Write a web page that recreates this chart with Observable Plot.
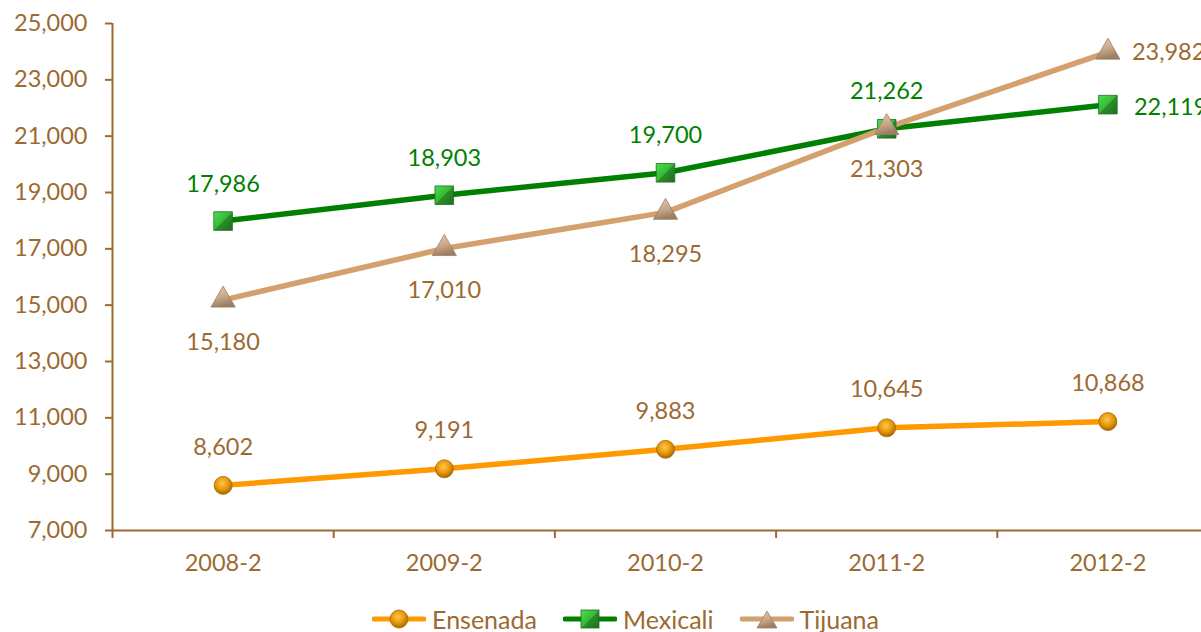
<!DOCTYPE html>
<html><head><meta charset="utf-8">
<script src="https://cdn.jsdelivr.net/npm/d3@7"></script>
<script src="https://cdn.jsdelivr.net/npm/@observablehq/plot@0.6"></script>
<style>
html,body{margin:0;padding:0;background:#fff;overflow:hidden;width:1201px;height:632px}
#chart svg{display:block}
#legend{display:flex;justify-content:center;align-items:center;height:42px;margin-top:8px;padding-left:50px;font-family:Lato,sans-serif;font-size:25px;color:#9C6A30}
#legend .item{display:flex;align-items:center;margin:0 13px}
#legend svg{margin-right:6px}
</style></head><body>
<div id="chart"></div><div id="legend"></div>
<script>
const periods = ["2008-2","2009-2","2010-2","2011-2","2012-2"];
const ensenada = [8602,9191,9883,10645,10868];
const mexicali = [17986,18903,19700,21262,22119];
const tijuana = [15180,17010,18295,21303,23982];
const yTicks = [7000,9000,11000,13000,15000,17000,19000,21000,23000,25000];
const seriesNames = ["Ensenada","Mexicali","Tijuana"];
const seriesColors = {Ensenada:"#FF9900", Mexicali:"#008000", Tijuana:"#D4A06E"};
const labelColors = {Ensenada:"#9C6A30", Mexicali:"#008000", Tijuana:"#9C6A30"};
const axisColor = "#9C6A30";
const fs = 23.5;

const seriesValues = {Ensenada: ensenada, Mexicali: mexicali, Tijuana: tijuana};
const rows = seriesNames.flatMap(s => seriesValues[s].map((v, i) => ({series: s, i, period: periods[i], value: v, last: i === periods.length - 1})));
const bySeries = s => rows.filter(d => d.series === s);
const idx = periods.map((_, i) => i);
const bounds = [-0.5, ...idx.map(i => i + 0.5)];
const fmt = d3.format(",");

const plot = Plot.plot({
  width: 1201, height: 590,
  marginTop: 23, marginBottom: 60, marginLeft: 112, marginRight: 0,
  style: {fontFamily: "Lato, sans-serif", fontSize: fs + "px", color: axisColor, background: "#fff", overflow: "visible"},
  x: {type: "linear", domain: [-0.5, periods.length - 0.5], range: [112, 1218]},
  y: {domain: [7000, 25000], range: [530, 23]},
  marks: [
    Plot.ruleX([-0.5], {stroke: axisColor, strokeWidth: 2}),
    Plot.ruleY([7000], {stroke: axisColor, strokeWidth: 2}),
    Plot.axisY({ticks: yTicks, tickSize: 7, tickPadding: 18, tickFormat: fmt, label: null, stroke: axisColor, strokeWidth: 2, fill: axisColor, fontSize: fs}),
    Plot.axisX({ticks: idx, tickSize: 0, tickPadding: 24, tickFormat: i => periods[i], label: null, fill: axisColor, fontSize: fs}),
    Plot.axisX({ticks: bounds, tickSize: 8, tickFormat: () => "", label: null, stroke: axisColor, strokeWidth: 2}),
    ...seriesNames.map(s => Plot.line(bySeries(s), {x: "i", y: "value", stroke: seriesColors[s], strokeWidth: 5.5})),
    Plot.dot(bySeries("Ensenada"), {x: "i", y: "value", r: 9, fill: "url(#gEns)", stroke: "#A86E00", strokeWidth: 0.8}),
    Plot.dot(bySeries("Mexicali"), {x: "i", y: "value", symbol: "square", r: 10.5, fill: "url(#gMex)", stroke: "#1E6E1E", strokeWidth: 0.8}),
    Plot.dot(bySeries("Tijuana"), {x: "i", y: "value", symbol: "triangle", r: 9, fill: "url(#gTij)", stroke: "#9A8068", strokeWidth: 0.8}),
    Plot.text(bySeries("Ensenada"), {x: "i", y: "value", text: d => fmt(d.value), dy: -38, fill: labelColors.Ensenada, fontSize: fs}),
    Plot.text(bySeries("Mexicali").filter(d => !d.last), {x: "i", y: "value", text: d => fmt(d.value), dy: -37, fill: labelColors.Mexicali, fontSize: fs}),
    Plot.text(bySeries("Mexicali").filter(d => d.last), {x: "i", y: "value", text: d => fmt(d.value), dx: 26, dy: 3, textAnchor: "start", fill: labelColors.Mexicali, fontSize: fs}),
    Plot.text(bySeries("Tijuana").filter(d => !d.last), {x: "i", y: "value", text: d => fmt(d.value), dy: 42, fill: labelColors.Tijuana, fontSize: fs}),
    Plot.text(bySeries("Tijuana").filter(d => d.last), {x: "i", y: "value", text: d => fmt(d.value), dx: 24, dy: 0, textAnchor: "start", fill: labelColors.Tijuana, fontSize: fs})
  ]
});

const defsHTML = `
<radialGradient id="gEns" cx="45%" cy="38%" r="65%">
  <stop offset="0%" stop-color="#FFC84A"/><stop offset="55%" stop-color="#E8960A"/><stop offset="100%" stop-color="#9A6200"/>
</radialGradient>
<linearGradient id="gMex" x1="0" y1="0" x2="1" y2="1">
  <stop offset="0%" stop-color="#4CE04C"/><stop offset="50%" stop-color="#36B836"/><stop offset="51%" stop-color="#2A8E2A"/><stop offset="100%" stop-color="#1F6F1F"/>
</linearGradient>
<linearGradient id="gTij" x1="0" y1="0" x2="0.3" y2="1">
  <stop offset="0%" stop-color="#E6CCB2"/><stop offset="60%" stop-color="#C9A687"/><stop offset="100%" stop-color="#9C7E64"/>
</linearGradient>`;
const defs = document.createElementNS("http://www.w3.org/2000/svg", "defs");
defs.innerHTML = defsHTML;
plot.insertBefore(defs, plot.firstChild);
document.getElementById("chart").appendChild(plot);

// legend
const legend = d3.select("#legend");
const markerPaths = {
  Ensenada: sel => sel.append("circle").attr("cx", 27).attr("cy", 11).attr("r", 9).attr("fill", "url(#gEns)").attr("stroke", "#A86E00").attr("stroke-width", 0.8),
  Mexicali: sel => sel.append("rect").attr("x", 18).attr("y", 2).attr("width", 18).attr("height", 18).attr("fill", "url(#gMex)").attr("stroke", "#1E6E1E").attr("stroke-width", 0.8),
  Tijuana: sel => sel.append("path").attr("d", "M27,3 L37,20 L17,20 Z").attr("fill", "url(#gTij)").attr("stroke", "#9A8068").attr("stroke-width", 0.8)
};
seriesNames.forEach(s => {
  const item = legend.append("div").attr("class", "item");
  const sv = item.append("svg").attr("width", 54).attr("height", 22);
  sv.append("line").attr("x1", 2).attr("x2", 52).attr("y1", 11).attr("y2", 11).attr("stroke", seriesColors[s]).attr("stroke-width", 5).attr("stroke-linecap", "round");
  markerPaths[s](sv);
  item.append("span").text(s);
});
</script>
</body></html>
